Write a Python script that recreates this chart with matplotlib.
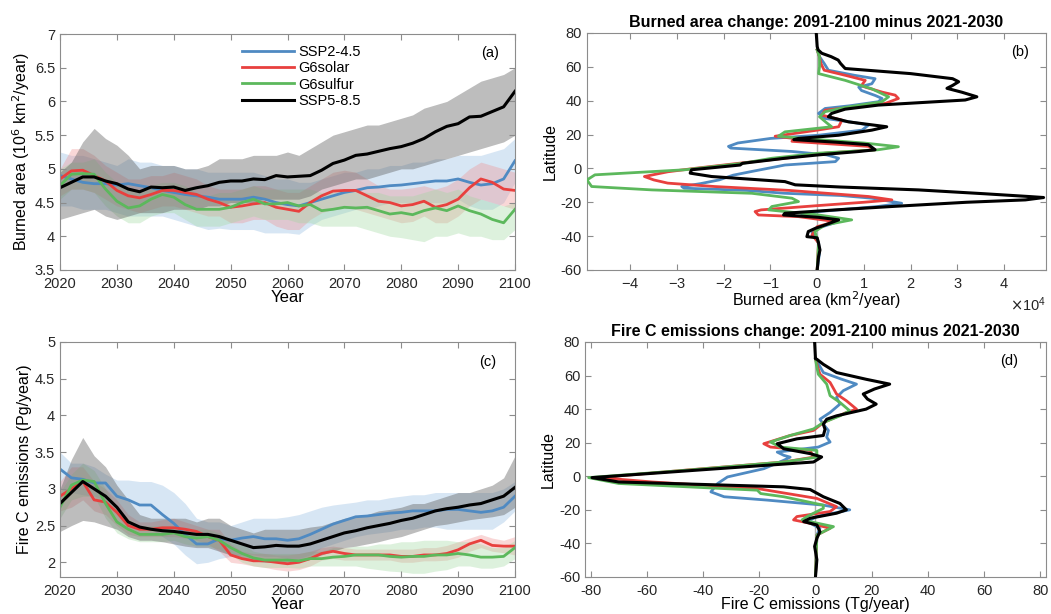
import numpy as np
import matplotlib
matplotlib.use("Agg")
import matplotlib.pyplot as plt
from matplotlib.ticker import ScalarFormatter

plt.rcParams['font.family'] = ['Liberation Sans', 'DejaVu Sans']
plt.rcParams['font.size'] = 10.5
plt.rcParams['axes.unicode_minus'] = False

# ---- time series (even years) ----
years = np.arange(2020, 2101, 2)

# Burned area, 10^6 km2/year
ba_ssp245 = [4.9, 4.85, 4.8, 4.78, 4.78, 4.76, 4.78, 4.75, 4.72, 4.68, 4.65, 4.62, 4.6, 4.58, 4.55, 4.55, 4.55, 4.58, 4.55, 4.5, 4.47,
             4.45, 4.5, 4.55, 4.6, 4.65, 4.68, 4.72, 4.73, 4.75, 4.76, 4.78, 4.8, 4.82, 4.82, 4.85, 4.8, 4.76, 4.78, 4.85, 5.12]
ba_ssp245_hi = [5.25, 5.2, 5.2, 5.15, 5.1, 5.05, 5.15, 5.1, 5.1, 5.05, 5.05, 5.0, 5.0, 4.95, 4.95, 4.95, 4.95, 4.95, 4.9, 4.85, 4.85,
                4.8, 4.8, 4.85, 4.9, 4.95, 4.95, 5.0, 5.0, 5.05, 5.05, 5.1, 5.1, 5.15, 5.15, 5.2, 5.2, 5.2, 5.25, 5.3, 5.45]
ba_ssp245_lo = [4.45, 4.45, 4.4, 4.4, 4.4, 4.35, 4.3, 4.3, 4.3, 4.3, 4.25, 4.2, 4.15, 4.1, 4.12, 4.1, 4.1, 4.1, 4.05, 4.05, 4.05,
                4.03, 4.15, 4.25, 4.3, 4.35, 4.4, 4.4, 4.45, 4.5, 4.5, 4.5, 4.5, 4.5, 4.5, 4.55, 4.45, 4.4, 4.4, 4.5, 4.8]

ba_solar = [4.85, 4.97, 4.98, 4.9, 4.82, 4.68, 4.6, 4.57, 4.62, 4.68, 4.68, 4.65, 4.62, 4.55, 4.5, 4.43, 4.45, 4.48, 4.5, 4.43, 4.4,
            4.37, 4.5, 4.6, 4.67, 4.68, 4.68, 4.6, 4.52, 4.5, 4.45, 4.47, 4.52, 4.43, 4.47, 4.55, 4.72, 4.85, 4.8, 4.7, 4.68]
ba_solar_hi = [5.0, 5.3, 5.3, 5.2, 5.05, 4.95, 4.85, 4.85, 4.9, 4.9, 4.95, 4.9, 4.85, 4.75, 4.7, 4.7, 4.7, 4.75, 4.75, 4.7, 4.65,
               4.65, 4.75, 4.85, 4.95, 4.98, 4.95, 4.85, 4.75, 4.7, 4.7, 4.72, 4.75, 4.7, 4.75, 4.85, 5.0, 5.1, 5.05, 5.0, 4.95]
ba_solar_lo = [4.6, 4.7, 4.7, 4.65, 4.55, 4.45, 4.4, 4.35, 4.4, 4.45, 4.45, 4.4, 4.35, 4.3, 4.3, 4.2, 4.2, 4.25, 4.25, 4.15, 4.1,
               4.1, 4.25, 4.35, 4.4, 4.42, 4.4, 4.35, 4.3, 4.25, 4.2, 4.22, 4.3, 4.2, 4.2, 4.3, 4.45, 4.55, 4.5, 4.45, 4.4]

ba_sulfur = [4.75, 4.92, 4.93, 4.92, 4.7, 4.52, 4.42, 4.45, 4.55, 4.62, 4.58, 4.47, 4.4, 4.4, 4.4, 4.43, 4.5, 4.55, 4.48, 4.48, 4.5,
             4.45, 4.47, 4.38, 4.4, 4.43, 4.42, 4.43, 4.38, 4.33, 4.35, 4.32, 4.38, 4.42, 4.38, 4.45, 4.38, 4.33, 4.25, 4.2, 4.4]
ba_sulfur_hi = [5.0, 5.1, 5.1, 5.15, 4.95, 4.8, 4.7, 4.65, 4.75, 4.8, 4.8, 4.75, 4.65, 4.6, 4.65, 4.65, 4.7, 4.75, 4.7, 4.7, 4.7,
                4.7, 4.7, 4.65, 4.65, 4.68, 4.68, 4.65, 4.65, 4.6, 4.6, 4.6, 4.65, 4.7, 4.65, 4.7, 4.6, 4.55, 4.5, 4.45, 4.5]
ba_sulfur_lo = [4.55, 4.7, 4.7, 4.65, 4.45, 4.3, 4.2, 4.2, 4.3, 4.35, 4.35, 4.25, 4.15, 4.15, 4.15, 4.2, 4.25, 4.3, 4.25, 4.25, 4.25,
                4.2, 4.2, 4.15, 4.15, 4.15, 4.15, 4.1, 4.05, 4.0, 3.98, 3.95, 3.92, 4.0, 4.0, 4.05, 4.0, 4.0, 3.95, 3.95, 4.1]

ba_ssp585 = [4.72, 4.8, 4.88, 4.88, 4.82, 4.78, 4.7, 4.66, 4.73, 4.72, 4.73, 4.68, 4.72, 4.75, 4.8, 4.82, 4.82, 4.85, 4.84, 4.9, 4.88,
             4.89, 4.9, 4.98, 5.08, 5.13, 5.2, 5.22, 5.26, 5.3, 5.33, 5.38, 5.45, 5.55, 5.63, 5.67, 5.77, 5.78, 5.85, 5.92, 6.15]
ba_ssp585_hi = [4.95, 5.1, 5.4, 5.6, 5.45, 5.35, 5.2, 5.0, 5.05, 5.05, 5.05, 5.0, 5.0, 5.05, 5.15, 5.15, 5.15, 5.2, 5.2, 5.2, 5.25,
                5.2, 5.3, 5.4, 5.5, 5.55, 5.6, 5.65, 5.65, 5.7, 5.75, 5.8, 5.9, 5.95, 6.0, 6.1, 6.2, 6.3, 6.35, 6.4, 6.5]
ba_ssp585_lo = [4.25, 4.3, 4.35, 4.4, 4.3, 4.25, 4.3, 4.35, 4.35, 4.35, 4.4, 4.4, 4.4, 4.45, 4.45, 4.5, 4.5, 4.5, 4.55, 4.55, 4.55,
                4.55, 4.6, 4.7, 4.75, 4.8, 4.85, 4.85, 4.9, 4.95, 5.0, 5.0, 5.05, 5.1, 5.15, 5.2, 5.25, 5.3, 5.35, 5.4, 5.5]

# Fire C emissions, Pg/year
em_ssp245 = [3.27, 3.15, 3.13, 3.08, 3.08, 2.9, 2.85, 2.78, 2.78, 2.65, 2.53, 2.38, 2.25, 2.25, 2.32, 2.3, 2.33, 2.35, 2.32, 2.32, 2.3,
             2.32, 2.38, 2.45, 2.52, 2.57, 2.62, 2.63, 2.65, 2.67, 2.68, 2.7, 2.7, 2.7, 2.72, 2.72, 2.7, 2.68, 2.7, 2.75, 2.9]
em_ssp245_hi = [3.5, 3.35, 3.35, 3.3, 3.2, 3.12, 3.12, 3.1, 3.1, 3.05, 2.95, 2.8, 2.6, 2.55, 2.55, 2.5, 2.55, 2.6, 2.6, 2.6, 2.62,
                2.65, 2.7, 2.75, 2.78, 2.8, 2.82, 2.85, 2.85, 2.88, 2.9, 2.92, 2.92, 2.95, 2.95, 2.95, 2.95, 2.95, 2.95, 3.0, 3.1]
em_ssp245_lo = [3.0, 2.95, 2.92, 2.9, 2.85, 2.7, 2.6, 2.5, 2.45, 2.35, 2.25, 2.1, 1.98, 2.0, 2.05, 2.08, 2.1, 2.1, 2.08, 2.08, 2.05,
                2.05, 2.1, 2.2, 2.25, 2.3, 2.35, 2.38, 2.4, 2.42, 2.45, 2.45, 2.48, 2.48, 2.45, 2.45, 2.45, 2.45, 2.45, 2.55, 2.7]

em_solar = [2.9, 3.0, 3.1, 2.85, 2.82, 2.68, 2.5, 2.45, 2.45, 2.47, 2.47, 2.45, 2.42, 2.35, 2.3, 2.1, 2.05, 2.02, 2.02, 2.0, 1.98,
            2.0, 2.05, 2.12, 2.15, 2.12, 2.1, 2.1, 2.1, 2.1, 2.08, 2.08, 2.1, 2.1, 2.12, 2.17, 2.25, 2.3, 2.23, 2.22, 2.22]
em_solar_hi = [3.1, 3.3, 3.3, 3.1, 3.0, 2.85, 2.65, 2.55, 2.55, 2.58, 2.6, 2.55, 2.5, 2.45, 2.45, 2.25, 2.15, 2.12, 2.12, 2.1, 2.1,
               2.12, 2.15, 2.2, 2.22, 2.2, 2.18, 2.18, 2.18, 2.18, 2.18, 2.18, 2.2, 2.2, 2.23, 2.28, 2.33, 2.38, 2.33, 2.3, 2.35]
em_solar_lo = [2.7, 2.75, 2.85, 2.7, 2.65, 2.5, 2.38, 2.35, 2.35, 2.35, 2.35, 2.33, 2.3, 2.25, 2.15, 2.0, 1.98, 1.95, 1.93, 1.9, 1.88,
               1.9, 1.95, 2.03, 2.05, 2.03, 2.03, 2.03, 2.03, 2.03, 2.0, 2.0, 2.02, 2.02, 2.03, 2.07, 2.15, 2.2, 2.15, 2.13, 2.1]

em_sulfur = [2.75, 3.05, 3.12, 3.1, 2.8, 2.55, 2.45, 2.38, 2.38, 2.38, 2.4, 2.35, 2.33, 2.35, 2.3, 2.2, 2.12, 2.06, 2.03, 2.03, 2.03,
             2.02, 2.05, 2.05, 2.07, 2.08, 2.1, 2.1, 2.1, 2.08, 2.07, 2.08, 2.08, 2.1, 2.1, 2.12, 2.1, 2.07, 2.07, 2.08, 2.2]
em_sulfur_hi = [2.95, 3.2, 3.35, 3.25, 3.0, 2.75, 2.6, 2.5, 2.5, 2.5, 2.5, 2.45, 2.45, 2.45, 2.4, 2.3, 2.25, 2.15, 2.12, 2.12, 2.12,
                2.12, 2.15, 2.15, 2.2, 2.2, 2.22, 2.22, 2.25, 2.25, 2.28, 2.28, 2.3, 2.3, 2.3, 2.28, 2.28, 2.25, 2.2, 2.2, 2.3]
em_sulfur_lo = [2.6, 2.85, 2.9, 2.9, 2.6, 2.4, 2.32, 2.28, 2.28, 2.28, 2.3, 2.25, 2.22, 2.22, 2.18, 2.1, 2.0, 1.95, 1.93, 1.93, 1.93,
                1.92, 1.95, 1.95, 1.95, 1.95, 1.95, 1.92, 1.9, 1.88, 1.87, 1.85, 1.85, 1.88, 1.9, 1.95, 1.95, 1.92, 1.92, 1.95, 2.05]

em_ssp585 = [2.8, 2.95, 3.1, 3.0, 2.9, 2.75, 2.55, 2.48, 2.45, 2.43, 2.42, 2.4, 2.38, 2.38, 2.35, 2.3, 2.25, 2.2, 2.21, 2.23, 2.22,
             2.22, 2.25, 2.3, 2.35, 2.4, 2.43, 2.47, 2.5, 2.53, 2.57, 2.6, 2.65, 2.7, 2.73, 2.75, 2.78, 2.8, 2.85, 2.9, 3.02]
em_ssp585_hi = [3.0, 3.4, 3.7, 3.45, 3.3, 3.05, 2.85, 2.65, 2.6, 2.6, 2.6, 2.6, 2.55, 2.6, 2.6, 2.5, 2.45, 2.4, 2.45, 2.45, 2.45,
                2.45, 2.48, 2.5, 2.55, 2.6, 2.62, 2.65, 2.7, 2.72, 2.75, 2.8, 2.8, 2.85, 2.9, 2.95, 2.95, 3.0, 3.05, 3.15, 3.45]
em_ssp585_lo = [2.42, 2.5, 2.57, 2.55, 2.5, 2.45, 2.35, 2.3, 2.3, 2.28, 2.25, 2.22, 2.2, 2.2, 2.15, 2.1, 2.05, 2.02, 2.0, 2.0, 2.0,
                2.0, 2.05, 2.1, 2.15, 2.2, 2.22, 2.25, 2.28, 2.32, 2.35, 2.4, 2.45, 2.5, 2.52, 2.55, 2.58, 2.6, 2.62, 2.65, 2.75]

# ---- zonal change profiles, 2091-2100 minus 2021-2030 ----
# burned area change (10^4 km2/year) against latitude
bz_lat_ssp245 = [70, 66, 62, 58, 55, 53, 50, 48, 46, 43, 41.3, 39.4, 37, 35.4, 32.5, 29.5, 27.5, 25.6, 22.6, 19.6, 17.7, 15, 13, 12,
                 10, 8, 6, 4, 2, -1.8, -4, -6.8, -9, -10.7, -11.7, -13, -14.7, -16, -17.6, -20.6, -22.5, -25.5, -27.5, -29.5,
                 -31.4, -35.4, -38, -40.3, -44, -50, -60]
bz_ssp245 = [0.0, 0.05, 0.15, 0.24, 0.8, 1.24, 1.17, 0.89, 0.95, 1.25, 1.39, 1.31, 0.7, 0.17, 0.03, 0.17, 0.7, 1.1, 0.96, 0.03, -1.0,
             -1.7, -1.9, -1.85, -0.54, 0.2, 0.46, 0.39, -0.69, -1.4, -1.8, -2.1, -2.5, -2.9, -2.85, -1.5, -0.69, 0.5, 1.17, 1.81,
             1.3, 0.03, -0.33, 0.17, 0.46, 0.0, -0.11, -0.04, 0.03, 0.05, 0.0]
bz_lat_solar = [70, 66, 62, 58, 55, 52, 49, 48, 45, 43.3, 41.3, 38.4, 36, 34.4, 31.5, 28.5, 24.6, 22.6, 19, 17.7, 16, 13, 11, 9, 6,
                3, 0.1, -2, -4.8, -6.8, -8.7, -10.7, -13, -16.6, -18.6, -20, -22, -24.5, -25.5, -27.5, -28.5, -31.4, -34.4,
                -39.3, -44, -60]
bz_solar = [0.0, 0.05, 0.08, 0.15, 0.6, 1.03, 0.95, 1.03, 1.4, 1.67, 1.74, 1.46, 0.7, 0.17, 0.1, 0.53, 0.46, 0.0, -0.9, -0.5, -0.54,
            1.1, 1.24, 0.17, -0.69, -1.69, -2.6, -3.2, -3.7, -3.5, -3.2, -2.2, -0.6, 1.1, 1.6, 1.0, 0.0, -1.2, -1.33, -1.26, -0.4,
            0.39, 0.0, -0.11, 0.03, 0.0]
bz_lat_sulfur = [70, 66, 60, 56, 52, 47, 42.3, 39.4, 36, 33.5, 30.5, 27, 24.6, 21.6, 19, 17.5, 15, 12.8, 11, 9, 6, 3, -0.8, -3.8,
                 -6.8, -10.7, -12.7, -14.7, -17.6, -19.6, -22.5, -24.5, -27.5, -30.4, -33.4, -37.3, -44, -60]
bz_sulfur = [0.0, 0.05, 0.05, 0.03, 0.6, 1.17, 1.53, 1.39, 0.6, 0.17, 0.05, 0.2, 0.31, -0.69, -0.83, -0.2, 1.0, 1.74, 1.3, 0.03,
             -0.97, -1.6, -2.83, -4.76, -4.93, -4.83, -3.54, -1.4, -0.54, -0.4, -0.97, -1.04, 0.03, 0.74, 0.17, -0.05, 0.03, 0.0]
bz_lat_ssp585 = [80, 72, 70, 68, 66, 64, 62, 59, 56, 53, 51.2, 49, 47.3, 45, 42.3, 40.4, 39, 37.4, 35, 32.5, 30.5, 27.5, 24.6, 22.6,
                 19.6, 17.7, 17, 15.5, 14, 11, 10, 8, 6, 3, 2, -0.8, -2.8, -4.8, -7.8, -9.7, -11, -12.7, -15, -16.6, -17.2,
                 -18.6, -20, -22.5, -24.5, -26.5, -27.5, -28.9, -30.4, -33.4, -35.4, -37.3, -40.3, -41, -44.2, -48.2, -52, -60]
bz_ssp585 = [-0.02, 0.0, 0.02, 0.1, 0.3, 0.45, 0.5, 0.6, 2.0, 2.9, 3.03, 2.9, 2.78, 3.1, 3.42, 3.17, 2.3, 1.31, 0.6, 0.31, 0.24,
             0.67, 1.49, 1.17, 0.46, -0.4, -0.5, 0.4, 1.1, 1.24, 0.9, 0.03, -0.69, -1.6, -1.65, -2.69, -2.72, -2.26, -0.69,
             -0.47, 0.5, 2.17, 3.6, 4.53, 4.85, 4.46, 3.2, 1.6, 0.4, -0.69, -0.72, 0.03, 0.46, 0.17, -0.04, -0.19, -0.22, 0.0,
             0.03, 0.06, 0.03, 0.0]

# fire C emissions change (Tg/year) against latitude
ez_lat_ssp245 = [70, 68.7, 61.8, 58, 54.9, 51, 47, 43, 38, 34, 31, 27.3, 23.3, 20.4, 17.4, 14.4, 12.5, 11.4, 9.5, 4.5, -0.4, -4.3,
                 -9.3, -12.2, -14.2, -17.2, -20, -24, -27, -31, -35, -45, -60]
ez_ssp245 = [0.0, 0.5, 2.8, 9, 14.6, 9.9, 7.5, 8.7, 5.2, 1.6, 2.8, 4.6, 4.0, 5.2, 1.0, -13.6, -11.3, -9, -11.3, -18.4, -31.3,
             -34.8, -37.2, -32.5, -17.2, 2.8, 12.2, 0.5, -3, 1.6, 0.5, 0.3, 0.0]
ez_lat_solar = [70, 66.7, 60.8, 55.9, 49, 45, 40, 38, 32, 27.3, 24.3, 19.4, 17.4, 15.4, 11.4, 8.5, 3.6, -0.8, -3.4, -7.3, -9.3,
                -13.2, -18.1, -21, -24, -26, -28, -31, -35, -45, -60]
ez_solar = [0.0, 0.5, 1.6, 5.2, 7.5, 11, 14.6, 11, 2.8, -0.7, -9, -18.4, -16, -1.9, -0.7, -11.3, -46.6, -77, -58, -20.7, -13.6,
            0.5, 7.5, 5.2, -6.6, -7.8, -1.9, 5.2, 0.5, 0.3, 0.0]
ez_lat_sulfur = [70, 66.7, 60.8, 54.9, 48, 44, 39, 36, 32, 28.2, 24.3, 20.4, 17.4, 15.4, 11.4, 8.5, 3.6, -0.8, -4.3, -8.3, -10.3,
                 -12.2, -17.2, -19.1, -24, -26, -30, -35, -45, -60]
ez_sulfur = [0.0, 0.3, 1.0, 4.0, 5.2, 8.7, 12.2, 8.7, 2.8, -0.7, -9, -16, -12.5, 0.5, 0.5, -11.3, -46, -80.7, -70, -20.7, -19.5,
             -11.3, 2.8, 2.8, -3, -4.8, 6.4, 0.5, 0.3, 0.0]
ez_lat_ssp585 = [80, 70, 69.7, 66.7, 61.8, 57.8, 54.9, 52, 49, 46, 43, 40, 36, 34, 31, 28, 24.3, 22.3, 19.4, 16.4, 13.5, 11.5, 8.5,
                 4.5, -0.8, -3.4, -6.3, -7.9, -12.2, -16.2, -20, -22, -25, -27, -29, -33, -36.9, -41.8, -49.7, -60]
ez_ssp585 = [-0.3, 0.0, 0.5, 2.8, 7.5, 18, 26.4, 21, 17, 18.5, 21.6, 18, 7.5, 4, 2.8, 3.4, 2.8, -6.6, -13.6, -11.3, -1.9, 2.2,
             -0.7, -35, -79.5, -70, -11.3, -1.9, 2.8, 8.7, 11, 7.5, -1.9, -4.2, 0.5, 1.6, 0.5, -0.3, 0.5, 0.0]

names = ['SSP2-4.5', 'G6solar', 'G6sulfur', 'SSP5-8.5']
colors = ['#4f8ac2', '#e8403e', '#5cb85c', '#000000']
band_colors = ['#8fb8e0', '#ee8f8f', '#9fd89f', '#5a5a5a']
band_alpha = [0.35, 0.35, 0.35, 0.4]


def style_axes(ax):
    for s in ax.spines.values():
        s.set_color('#8c8c8c')
        s.set_linewidth(0.8)
    ax.tick_params(direction='in', top=True, right=True, color='#8c8c8c',
                   labelcolor='#262626', length=4, labelsize=10.5)
    ax.tick_params(axis='x', pad=5)


fig = plt.figure(figsize=(10.51, 6.14), dpi=100)
ax_a = fig.add_axes([0.0571, 0.5603, 0.4329, 0.3843])
ax_b = fig.add_axes([0.5585, 0.5603, 0.4367, 0.3860])
ax_c = fig.add_axes([0.0571, 0.0603, 0.4329, 0.3827])
ax_d = fig.add_axes([0.5566, 0.0603, 0.4386, 0.3827])

# (a) and (c): time series with spread
ts_a = [(ba_ssp245, ba_ssp245_lo, ba_ssp245_hi), (ba_solar, ba_solar_lo, ba_solar_hi),
        (ba_sulfur, ba_sulfur_lo, ba_sulfur_hi), (ba_ssp585, ba_ssp585_lo, ba_ssp585_hi)]
ts_c = [(em_ssp245, em_ssp245_lo, em_ssp245_hi), (em_solar, em_solar_lo, em_solar_hi),
        (em_sulfur, em_sulfur_lo, em_sulfur_hi), (em_ssp585, em_ssp585_lo, em_ssp585_hi)]

for ax, series in [(ax_a, ts_a), (ax_c, ts_c)]:
    for i, (m, lo, hi) in enumerate(series):
        ax.fill_between(years, lo, hi, color=band_colors[i], alpha=band_alpha[i], lw=0)
    for i, (m, lo, hi) in enumerate(series):
        ax.plot(years, m, color=colors[i], lw=2.2 if i == 3 else 2.0, label=names[i])
    ax.set_xlim(2020, 2100)
    ax.set_xticks(np.arange(2020, 2101, 10))
    ax.set_xlabel('Year', fontsize=12, labelpad=-1)
    style_axes(ax)

ax_a.set_ylim(3.5, 7)
ax_a.set_yticks(np.arange(3.5, 7.01, 0.5))
ax_a.set_yticklabels(['3.5', '4', '4.5', '5', '5.5', '6', '6.5', '7'])
ax_a.set_ylabel('Burned area (10$^6$ km$^2$/year)', fontsize=11.5, labelpad=2)
ax_a.legend(loc='upper left', bbox_to_anchor=(0.38, 0.99), frameon=False, fontsize=10.5,
            handlelength=3.6, labelspacing=0.15, handletextpad=0.3, borderaxespad=0.2)
ax_a.text(0.945, 0.92, '(a)', transform=ax_a.transAxes, ha='center', va='center', fontsize=10.5)

ax_c.set_ylim(1.8, 5)
ax_c.set_yticks(np.arange(2, 5.01, 0.5))
ax_c.set_yticklabels(['2', '2.5', '3', '3.5', '4', '4.5', '5'])
ax_c.set_ylabel('Fire C emissions (Pg/year)', fontsize=11.5, labelpad=2)
ax_c.text(0.94, 0.915, '(c)', transform=ax_c.transAxes, ha='center', va='center', fontsize=10.5)

# (b) and (d): latitude profiles
prof_b = [(bz_ssp245, bz_lat_ssp245), (bz_solar, bz_lat_solar), (bz_sulfur, bz_lat_sulfur), (bz_ssp585, bz_lat_ssp585)]
prof_d = [(ez_ssp245, ez_lat_ssp245), (ez_solar, ez_lat_solar), (ez_sulfur, ez_lat_sulfur), (ez_ssp585, ez_lat_ssp585)]

for ax, profs, scale in [(ax_b, prof_b, 1e4), (ax_d, prof_d, 1.0)]:
    ax.axvline(0, color='#b0b0b0', lw=1.0, zorder=1)
    for i, (vals, lats) in enumerate(profs):
        ax.plot(np.array(vals) * scale, lats, color=colors[i], lw=2.2 if i == 3 else 2.0, zorder=2 + i)
    ax.set_ylim(-60, 80)
    ax.set_yticks(np.arange(-60, 81, 20))
    ax.set_ylabel('Latitude', fontsize=11.5, labelpad=2)
    style_axes(ax)

ax_b.set_xlim(-4.93e4, 4.9e4)
ax_b.set_xticks(np.arange(-4e4, 4.01e4, 1e4))
fmt = ScalarFormatter(useMathText=True)
fmt.set_powerlimits((0, 0))
ax_b.xaxis.set_major_formatter(fmt)
ax_b.xaxis.get_offset_text().set_fontsize(10.5)
ax_b.set_xlabel('Burned area (km$^2$/year)', fontsize=11.5, labelpad=-1)
ax_b.set_title('Burned area change: 2091-2100 minus 2021-2030', fontsize=11.5, fontweight='bold', pad=4)
ax_b.text(0.943, 0.92, '(b)', transform=ax_b.transAxes, ha='center', va='center', fontsize=10.5)

ax_d.set_xlim(-82, 82)
ax_d.set_xticks(np.arange(-80, 81, 20))
ax_d.set_xlabel('Fire C emissions (Tg/year)', fontsize=11.5, labelpad=-1)
ax_d.set_title('Fire C emissions change: 2091-2100 minus 2021-2030', fontsize=11.5, fontweight='bold', pad=4)
ax_d.text(0.92, 0.92, '(d)', transform=ax_d.transAxes, ha='center', va='center', fontsize=10.5)

fig.savefig('out.png', dpi=100)
